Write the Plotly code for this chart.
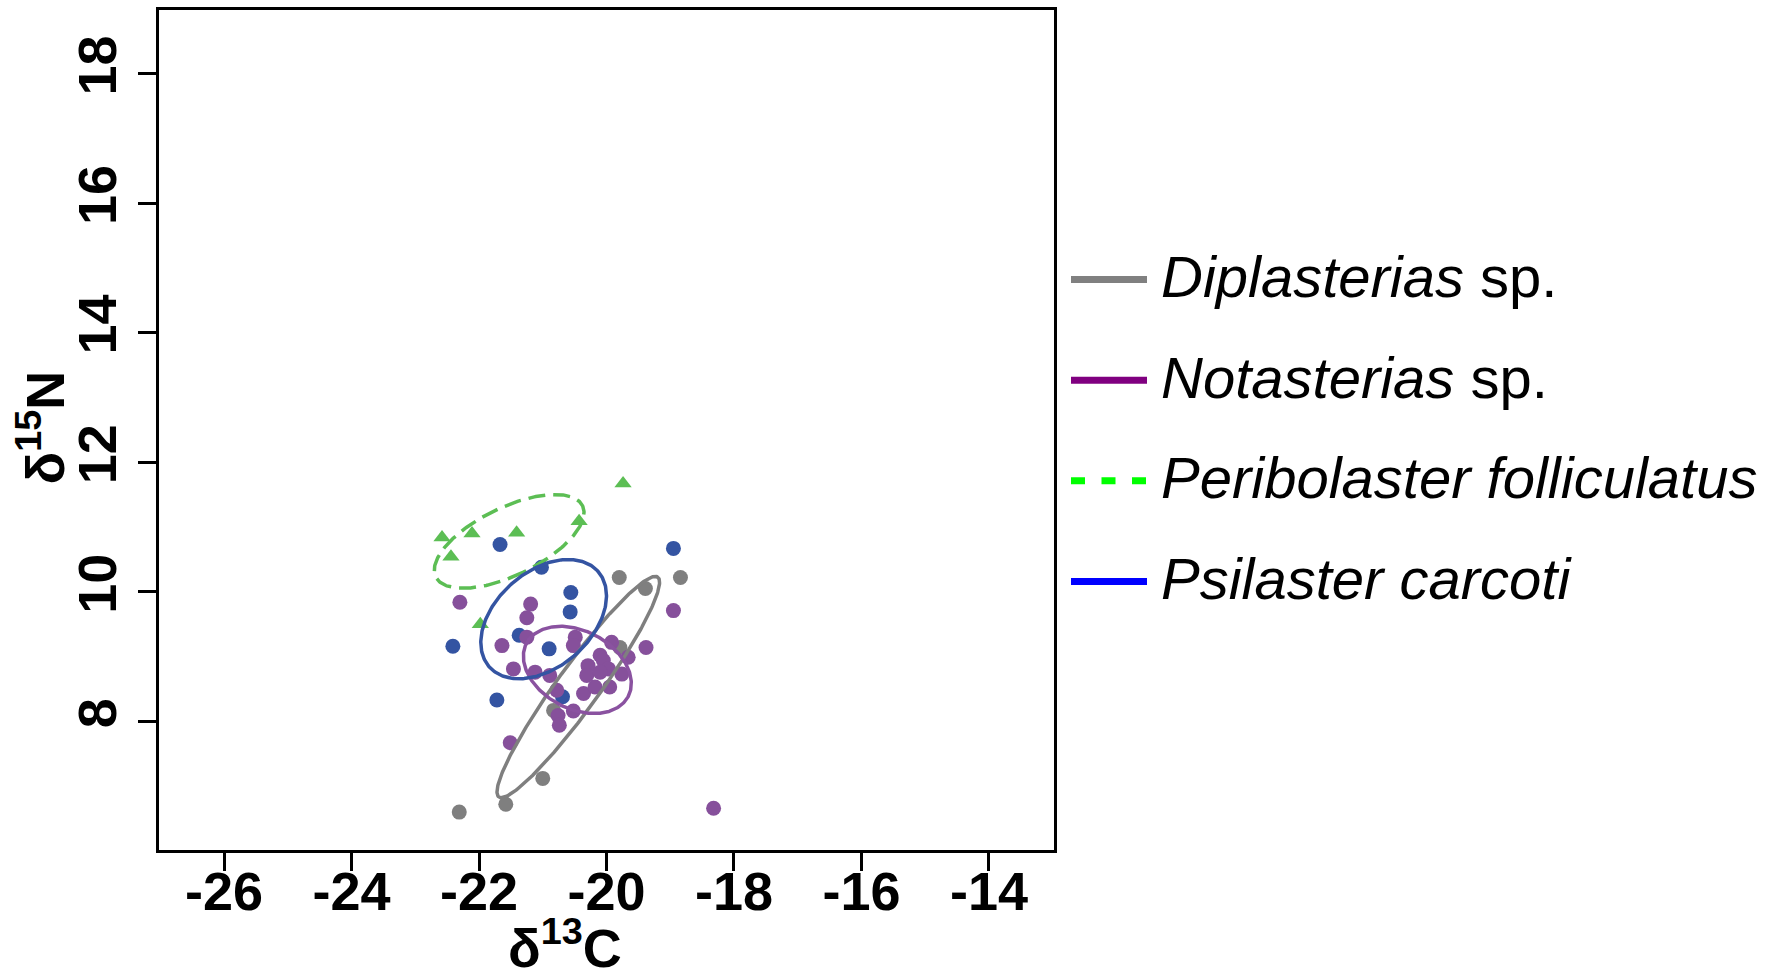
import numpy as np
import plotly.graph_objects as go

# ---------------- data ----------------
species = ["Diplasterias", "Notasterias", "Peribolaster folliculatus", "Psilaster carcoti"]
species_suffix = [" sp.", " sp.", "", ""]

dip_x = [-22.31, -21.58, -21.00, -20.83, -19.79, -19.39, -19.80, -18.84]
dip_y = [6.60, 6.72, 7.12, 8.17, 9.14, 10.05, 10.22, 10.22]

not_x = [-22.30, -21.19, -21.25, -21.64, -21.25, -21.46, -21.12, -20.89, -20.78, -20.49,
         -20.52, -19.92, -19.66, -19.38, -18.95, -18.32, -21.51, -20.76, -20.74, -20.52,
         -20.36, -20.18, -19.95, -20.29, -20.31, -20.10, -20.05, -19.97, -19.76, -20.10]
not_y = [9.84, 9.81, 9.60, 9.17, 9.30, 8.81, 8.76, 8.71, 8.48, 9.30,
         9.17, 9.22, 8.99, 9.14, 9.71, 6.66, 7.67, 8.09, 7.94, 8.16,
         8.43, 8.53, 8.53, 8.86, 8.71, 9.02, 8.94, 8.81, 8.73, 8.76]

per_x = [-19.74, -20.43, -22.58, -22.11, -21.41, -22.44, -21.98]
per_y = [11.67, 11.09, 10.84, 10.90, 10.91, 10.54, 9.50]

psi_x = [-21.67, -21.02, -18.95, -20.56, -20.57, -22.41, -21.37, -20.90, -21.72, -20.69]
psi_y = [10.73, 10.38, 10.67, 9.99, 9.69, 9.16, 9.33, 9.12, 8.33, 8.38]

x_ticks = [-26, -24, -22, -20, -18, -16, -14]
y_ticks = [8, 10, 12, 14, 16, 18]

# ---------------- styling ----------------
W, H = 1783, 970
L, R, T, B = 159, 1054, 7, 850
FONT = "Liberation Sans, Arial, Helvetica, sans-serif"

pt_cols = ["#7f7f7f", "#86509b", "#5cbe54", "#3454a2"]
el_cols = ["#7f7f7f", "#8a52a0", "#5cbe54", "#3454a2"]
leg_cols = ["#808080", "#800080", "#00ff00", "#0000ff"]


def sea_c(x, y, n=300):
    x = np.asarray(x, float)
    y = np.asarray(y, float)
    k = len(x)
    cov = np.cov(x, y) * (k - 1) / (k - 2)
    vals, vecs = np.linalg.eigh(cov)
    t = np.linspace(0, 2 * np.pi, n)
    circ = np.vstack([np.cos(t), np.sin(t)])
    pts = vecs @ (np.sqrt(vals)[:, None] * circ)
    return x.mean() + pts[0], y.mean() + pts[1]


fig = go.Figure()

groups = [(dip_x, dip_y, 0, "circle", 15),
          (per_x, per_y, 2, "triangle-up", 15),
          (psi_x, psi_y, 3, "circle", 15),
          (not_x, not_y, 1, "circle", 15)]
for gx, gy, ci, sym, sz in groups:
    fig.add_trace(go.Scatter(x=gx, y=gy, mode="markers",
                             marker=dict(color=pt_cols[ci], size=sz, symbol=sym, line=dict(width=0)),
                             hoverinfo="skip", showlegend=False))

ell = [(dip_x, dip_y, 0, "solid"), (not_x, not_y, 1, "solid"),
       (per_x, per_y, 2, "17px,8px"), (psi_x, psi_y, 3, "solid")]
for gx, gy, ci, dash in ell:
    ex, ey = sea_c(gx, gy)
    fig.add_trace(go.Scatter(x=ex, y=ey, mode="lines",
                             line=dict(color=el_cols[ci], width=3.5, dash=dash),
                             hoverinfo="skip", showlegend=False))

axis_common = dict(showline=True, linewidth=3, linecolor="black", mirror=True,
                   ticks="outside", ticklen=18, tickwidth=2.5, tickcolor="black",
                   showgrid=False, zeroline=False,
                   tickfont=dict(family=FONT, size=54, color="black", weight="bold"))

fig.update_xaxes(range=[-27.02, -12.98], tickvals=x_ticks,
                 ticktext=[f"-{abs(v)}" for v in x_ticks], ticklabelstandoff=-26,
                 **axis_common)
fig.update_yaxes(range=[6.015, 18.98], tickvals=y_ticks,
                 ticktext=[str(v) for v in y_ticks], tickangle=-90, **axis_common)


def px(xp):
    return (xp - L) / (R - L)


def py(yp):
    return (B - yp) / (B - T)


annotations = [
    dict(text="δ<sup>13</sup>C", x=px(565), y=py(944), xref="paper", yref="paper",
         xanchor="center", yanchor="middle", showarrow=False,
         font=dict(family=FONT, size=54, color="black", weight="bold")),
    dict(text="δ<sup>15</sup>N", x=px(41), y=py(426), xref="paper", yref="paper",
         xanchor="center", yanchor="middle", showarrow=False, textangle=-90,
         font=dict(family=FONT, size=54, color="black", weight="bold")),
]
shapes = []
for i, (name, suf) in enumerate(zip(species, species_suffix)):
    yc = 277.5 + 101 * i
    shapes.append(dict(type="line", xref="paper", yref="paper",
                       x0=px(1071), x1=px(1147), y0=py(yc), y1=py(yc),
                       line=dict(color=leg_cols[i], width=7,
                                 dash="14px,16.5px" if i == 2 else "solid")))
    annotations.append(dict(text=f"<i>{name}</i>{suf}", x=px(1159), y=py(yc - 3),
                            xref="paper", yref="paper", xanchor="left", yanchor="middle",
                            showarrow=False,
                            font=dict(family=FONT, size=58, color="black")))

fig.update_layout(width=W, height=H,
                  margin=dict(l=L, r=W - R, t=T, b=H - B, pad=0),
                  plot_bgcolor="white", paper_bgcolor="white",
                  showlegend=False, annotations=annotations, shapes=shapes)

fig.write_html("out.html", config={"displayModeBar": False},
               post_script="document.body.style.margin='0px';")
